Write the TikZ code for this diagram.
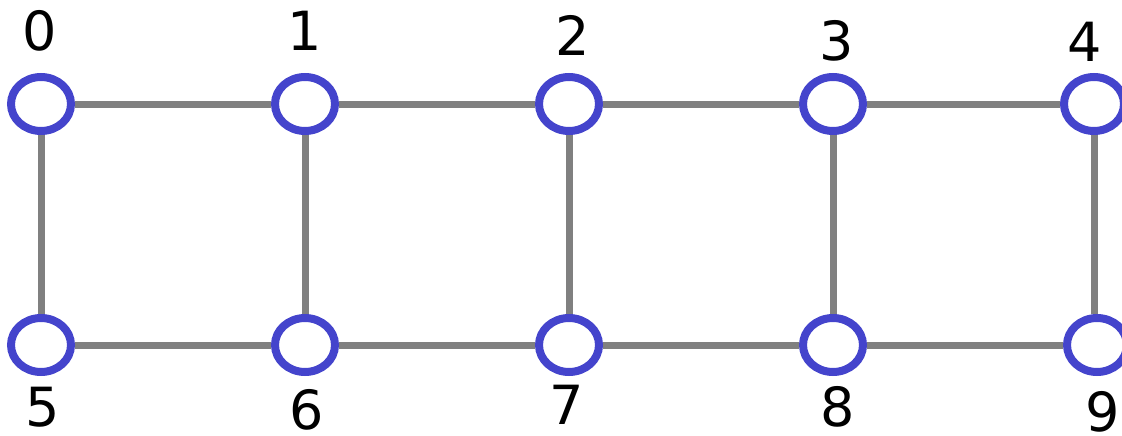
\documentclass[tikz,border=0pt]{standalone}
\usepackage{fontspec}
\setmainfont{DejaVu Sans}
\usetikzlibrary{shapes.geometric}
\definecolor{ringblue}{RGB}{68,68,204}
\definecolor{edgegray}{RGB}{128,128,128}
\tikzset{
    vertex/.style={ellipse, draw=ringblue, line width=8pt, fill=white,
        minimum width=60pt, minimum height=54pt, inner sep=0pt},
    edge/.style={draw=edgegray, line width=7pt},
    digit/.style={inner sep=0pt, font=\fontsize{54}{56}\selectfont}
}
\begin{document}
\begin{tikzpicture}[x=1pt, y=-1pt]
    \useasboundingbox (0, 0) rectangle (1122, 436);
    \foreach \v/\x/\y in {
            0/41/104,
            1/305/104,
            2/569/104,
            3/833/104,
            4/1094/104,
            5/41/345,
            6/305/345,
            7/569/345,
            8/833/345,
            9/1097/345} {
            \node[vertex] (v\v) at (\x, \y) {};
        }
    \draw[edge]
        (v0) -- (v1)
        (v1) -- (v2)
        (v2) -- (v3)
        (v3) -- (v4)
        (v5) -- (v6)
        (v6) -- (v7)
        (v7) -- (v8)
        (v8) -- (v9)
        (v0) -- (v5)
        (v1) -- (v6)
        (v2) -- (v7)
        (v3) -- (v8)
        (v4.south) -- (v4.south |- v9.north);
    \path[digit]
        \foreach \v/\x/\y in {
            0/40/31,
            1/305/31,
            2/573/35,
            3/837/41,
            4/1085/42,
            5/43/407,
            6/307/410,
            7/567/405,
            8/838/407,
            9/1103/412} {
            (\x, \y) node (l\v) {\v}
        };
\end{tikzpicture}
\end{document}
